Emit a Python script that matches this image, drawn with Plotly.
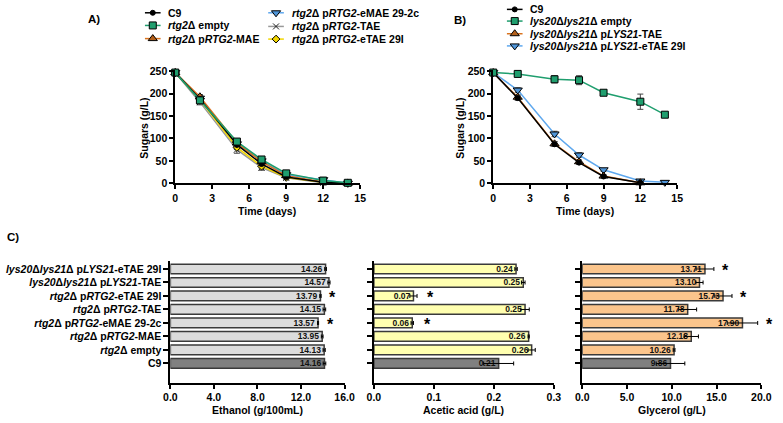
import plotly.graph_objects as go

W, H = 783, 423
F = "Arial, Liberation Sans, sans-serif"

# ---------------- data ----------------
days = [0, 2, 5, 7, 9, 12, 14]

# Panel A (sugars, g/L)
a_c9 = [247, 188, 86, 43, 14, 2, 0]
a_c9_err = [3, 5, 5, 4, 3, 1, 0]
a_empty = [247, 185, 93, 53, 22, 6, 1]
a_empty_err = [3, 6, 5, 4, 3, 2, 1]
a_mae = [247, 193, 90, 48, 17, 3, 0]
a_mae_err = [3, 5, 5, 4, 3, 1, 0]
a_emae = [247, 190, 88, 50, 19, 8, 0]
a_emae_err = [3, 5, 5, 4, 3, 2, 0]
a_tae = [247, 181, 75, 35, 12, 1, 0]
a_tae_err = [3, 6, 8, 6, 3, 1, 0]
a_etae = [247, 186, 80, 38, 13, 2, 0]
a_etae_err = [3, 5, 5, 4, 3, 1, 0]

# Panel B (sugars, g/L)
b_c9 = [247, 190, 87, 46, 15, 1, None]
b_c9_err = [3, 5, 5, 4, 3, 1, 0]
b_empty = [247, 244, 232, 230, 202, 182, 153]
b_empty_err = [3, 3, 8, 10, 4, 17, 3]
b_tae = [247, 192, 88, 48, 16, 1, None]
b_tae_err = [3, 5, 5, 4, 3, 1, 0]
b_etae = [247, 208, 110, 63, 30, 5, 2]
b_etae_err = [3, 5, 6, 5, 3, 2, 1]

# Panel C (bottom to top)
strains = [
    "<b>C9</b>",
    "<b><i>rtg2</i>Δ empty</b>",
    "<b><i>rtg2</i>Δ p<i>RTG2</i>-MAE</b>",
    "<b><i>rtg2</i>Δ p<i>RTG2</i>-eMAE 29-2c</b>",
    "<b><i>rtg2</i>Δ p<i>RTG2</i>-TAE</b>",
    "<b><i>rtg2</i>Δ p<i>RTG2</i>-eTAE 29I</b>",
    "<b><i>lys20</i>Δ<i>lys21</i>Δ p<i>LYS21</i>-TAE</b>",
    "<b><i>lys20</i>Δ<i>lys21</i>Δ p<i>LYS21</i>-eTAE 29I</b>",
]
ethanol = [14.16, 14.13, 13.95, 13.57, 14.15, 13.79, 14.57, 14.26]
ethanol_err = [0.12, 0.10, 0.08, 0.05, 0.12, 0.06, 0.10, 0.08]
acetic = [0.208, 0.263, 0.258, 0.064, 0.252, 0.066, 0.249, 0.237]
acetic_err = [0.025, 0.006, 0.001, 0.002, 0.007, 0.006, 0.003, 0.002]
glycerol = [9.86, 10.26, 12.18, 17.90, 11.78, 15.73, 13.10, 13.71]
glycerol_err = [1.6, 0.1, 0.8, 1.7, 1.0, 1.0, 0.4, 1.0]
sig_eth = [0, 0, 0, 1, 0, 1, 0, 0]
sig_ace = [0, 0, 0, 1, 0, 1, 0, 0]
sig_gly = [0, 0, 0, 1, 0, 1, 0, 1]

# ---------------- styles ----------------
GREEN = "#1f9e6e"
ORANGE = "#d9731f"
ORANGE_M = "#b5601a"
BLUE = "#5fa8ee"
BLUE_M = "#4f95d8"
GRAY = "#999999"
YELLOW = "#f2d600"

fig = go.Figure()
ann = []


def px_x(p):
    return p / W


def px_y(p):
    return 1 - p / H


# geometry of the bar panels (pixels)
BAR_TOP, BAR_BOT = 263, 388
BAR_YR = [-1.44, 7.58]
BAR_X = {"x3": (167, 345, 16.0), "x4": (375, 559, 0.3), "x5": (588, 771, 20.0)}

# ---------------- line panels ----------------
def line_trace(x, y, err, color, symbol, mcolor, msize, xa, ya, mline="black"):
    fig.add_trace(go.Scatter(
        x=x, y=y, mode="lines+markers", xaxis=xa, yaxis=ya,
        line=dict(color=color, width=1.5),
        marker=dict(symbol=symbol, color=mcolor, size=msize,
                    line=dict(color=mline, width=1)),
        error_y=dict(type="data", array=err, visible=True, color="#444",
                     thickness=1, width=3),
        cliponaxis=False, showlegend=False, connectgaps=False,
    ))


line_trace(days, a_tae, a_tae_err, GRAY, "x-thin", "#222", 6, "x", "y", mline="#222")
line_trace(days, a_etae, a_etae_err, YELLOW, "diamond", YELLOW, 6, "x", "y")
line_trace(days, a_emae, a_emae_err, BLUE, "triangle-down", BLUE_M, 8, "x", "y")
line_trace(days, a_mae, a_mae_err, ORANGE, "triangle-up", ORANGE_M, 8, "x", "y")
line_trace(days, a_c9, a_c9_err, "black", "circle", "black", 5, "x", "y")
line_trace(days, a_empty, a_empty_err, GREEN, "square", GREEN, 7, "x", "y")

line_trace(days, b_etae, b_etae_err, BLUE, "triangle-down", BLUE_M, 8, "x2", "y2")
line_trace(days, b_tae, b_tae_err, ORANGE, "triangle-up", ORANGE_M, 8, "x2", "y2")
line_trace(days, b_c9, b_c9_err, "black", "circle", "black", 5, "x2", "y2")
line_trace(days, b_empty, b_empty_err, GREEN, "square", GREEN, 7, "x2", "y2")

# ---------------- bar panels ----------------
ypos = list(range(len(strains)))


def bar_panel(vals, errs, fill, fmt, xa, ya, sig, gap_px):
    colors = ["#808080"] + [fill] * (len(vals) - 1)
    fig.add_trace(go.Bar(
        x=vals, y=ypos, orientation="h", xaxis=xa, yaxis=ya, width=0.72,
        marker=dict(color=colors, line=dict(color="#3a3a3a", width=1.5)),
        error_x=dict(type="data", array=errs, visible=True, color="black",
                     thickness=1, width=2),
        text=[format(v, fmt) for v in vals], textposition="inside",
        insidetextanchor="end", textangle=0, constraintext="none",
        textfont=dict(family=F, size=8.5, color="#111", weight="bold"),
        showlegend=False, cliponaxis=False,
    ))
    x0, x1, xmax = BAR_X[xa]
    for v, e, s, p in zip(vals, errs, sig, ypos):
        if s:
            sxp = x0 + (v + e) / xmax * (x1 - x0) + gap_px
            syp = BAR_BOT - (p - BAR_YR[0]) / (BAR_YR[1] - BAR_YR[0]) * (BAR_BOT - BAR_TOP)
            ann.append(dict(x=px_x(sxp), y=px_y(syp), xref="paper", yref="paper",
                            text="<b>*</b>", showarrow=False, xanchor="center",
                            yanchor="middle", yshift=-2,
                            font=dict(family=F, size=16, color="black")))


bar_panel(ethanol, ethanol_err, "#dcdcdc", ".2f", "x3", "y3", sig_eth, 12)
bar_panel(acetic, acetic_err, "#ffffb0", ".2f", "x4", "y4", sig_ace, 14)
bar_panel(glycerol, glycerol_err, "#fbc58c", ".2f", "x5", "y5", sig_gly, 12)


# ---------------- custom legends (overlay axis in pixel units) ----------------
def legend_item(xc, yc, color, symbol, mcolor, msize, label, mline="black"):
    fig.add_trace(go.Scatter(
        x=[xc - 8, xc + 8], y=[yc, yc], mode="lines", xaxis="x6", yaxis="y6",
        line=dict(color=color, width=1.5), showlegend=False, hoverinfo="skip"))
    fig.add_trace(go.Scatter(
        x=[xc], y=[yc], mode="markers", xaxis="x6", yaxis="y6",
        marker=dict(symbol=symbol, color=mcolor, size=msize,
                    line=dict(color=mline, width=1)),
        showlegend=False, hoverinfo="skip"))
    ann.append(dict(x=px_x(xc + 14), y=px_y(yc), xref="paper", yref="paper",
                    text=label, showarrow=False, xanchor="left", yanchor="middle",
                    font=dict(family=F, size=10.5, color="black")))


legend_item(149, 8, "black", "circle", "black", 5, "<b>C9</b>")
legend_item(149, 21, GREEN, "square", GREEN, 7, "<b><i>rtg2</i>Δ empty</b>")
legend_item(149, 34.5, ORANGE, "triangle-up", ORANGE_M, 8, "<b><i>rtg2</i>Δ p<i>RTG2</i>-MAE</b>")
legend_item(275, 8, BLUE, "triangle-down", BLUE_M, 8, "<b><i>rtg2</i>Δ p<i>RTG2</i>-eMAE 29-2c</b>")
legend_item(275, 22, GRAY, "x-thin", "#222", 6, "<b><i>rtg2</i>Δ p<i>RTG2</i>-TAE</b>", mline="#222")
legend_item(275, 35, YELLOW, "diamond", YELLOW, 6, "<b><i>rtg2</i>Δ p<i>RTG2</i>-eTAE 29I</b>")

legend_item(519, 4.5, "black", "circle", "black", 5, "<b>C9</b>")
legend_item(519, 16.5, GREEN, "square", GREEN, 7, "<b><i>lys20</i>Δ<i>lys21</i>Δ empty</b>")
legend_item(519, 29.5, ORANGE, "triangle-up", ORANGE_M, 8, "<b><i>lys20</i>Δ<i>lys21</i>Δ p<i>LYS21</i>-TAE</b>")
legend_item(519, 42, BLUE, "triangle-down", BLUE_M, 8, "<b><i>lys20</i>Δ<i>lys21</i>Δ p<i>LYS21</i>-eTAE 29I</b>")


def text_ann(xp, yp, text, size=10.5, angle=0, xanchor="center"):
    ann.append(dict(x=px_x(xp), y=px_y(yp), xref="paper", yref="paper", text=text,
                    showarrow=False, xanchor=xanchor, yanchor="middle", textangle=angle,
                    font=dict(family=F, size=size, color="black")))


# panel labels
text_ann(89, 14, "<b>A)</b>", size=11.5)
text_ann(463, 15, "<b>B)</b>", size=11.5)
text_ann(6, 238, "<b>C)</b>", size=11.5)
# axis titles
text_ann(266, 212, "<b>Time (days)</b>")
text_ann(591, 212, "<b>Time (days)</b>")
text_ann(140, 126, "<b>Sugars (g/L)</b>", angle=-90)
text_ann(463, 126, "<b>Sugars (g/L)</b>", angle=-90)
text_ann(256, 416, "<b>Ethanol (g/100mL)</b>")
text_ann(467, 416, "<b>Acetic acid (g/L)</b>")
text_ann(680, 416, "<b>Glycerol (g/L)</b>")

# ---------------- axes ----------------
tickf = dict(family=F, size=10.5, color="black", weight="bold")
axcommon = dict(showgrid=False, zeroline=False, showline=True, linecolor="black",
                linewidth=1.8, ticks="outside", ticklen=4, tickwidth=1.5,
                tickcolor="black", tickfont=tickf)

yA = [px_y(183), px_y(183 - 115 * 252 / 250)]
bar_y = [px_y(BAR_BOT), px_y(BAR_TOP)]

fig.update_layout(
    width=W, height=H,
    margin=dict(l=0, r=0, t=0, b=0),
    paper_bgcolor="white", plot_bgcolor="rgba(0,0,0,0)",
    font=dict(family=F, color="black"),
    showlegend=False,
    annotations=ann,
    xaxis=dict(domain=[px_x(172), px_x(361)], range=[0, 15], tickvals=[0, 3, 6, 9, 12, 15],
               anchor="y", **axcommon),
    yaxis=dict(domain=yA, range=[0, 252], tickvals=[0, 50, 100, 150, 200, 250],
               anchor="x", **axcommon),
    xaxis2=dict(domain=[px_x(497), px_x(685)], range=[0, 15], tickvals=[0, 3, 6, 9, 12, 15],
                anchor="y2", **axcommon),
    yaxis2=dict(domain=yA, range=[0, 252], tickvals=[0, 50, 100, 150, 200, 250],
                anchor="x2", **axcommon),
    xaxis3=dict(domain=[px_x(167), px_x(345)], range=[0, 16], tickvals=[0, 4, 8, 12, 16],
                tickformat=".1f", anchor="y3", **axcommon),
    yaxis3=dict(domain=bar_y, range=BAR_YR, tickvals=ypos, ticktext=strains,
                anchor="x3", **{**axcommon, "ticklen": 5}),
    xaxis4=dict(domain=[px_x(375), px_x(559)], range=[0, 0.3], tickvals=[0, 0.1, 0.2, 0.3],
                tickformat=".1f", anchor="y4", **axcommon),
    yaxis4=dict(domain=bar_y, range=BAR_YR, tickvals=ypos, showticklabels=False,
                anchor="x4", **{**axcommon, "ticklen": 5}),
    xaxis5=dict(domain=[px_x(588), px_x(771)], range=[0, 20], tickvals=[0, 5, 10, 15, 20],
                tickformat=".1f", anchor="y5", **axcommon),
    yaxis5=dict(domain=bar_y, range=BAR_YR, tickvals=ypos, showticklabels=False,
                anchor="x5", **{**axcommon, "ticklen": 5}),
    xaxis6=dict(domain=[0, 1], range=[0, W], visible=False, anchor="y6", fixedrange=True),
    yaxis6=dict(domain=[0, 1], range=[H, 0], visible=False, anchor="x6", fixedrange=True),
)

fig.write_html("out.html", config={"displayModeBar": False},
               post_script="document.body.style.margin='0';document.body.style.overflow='hidden';")
